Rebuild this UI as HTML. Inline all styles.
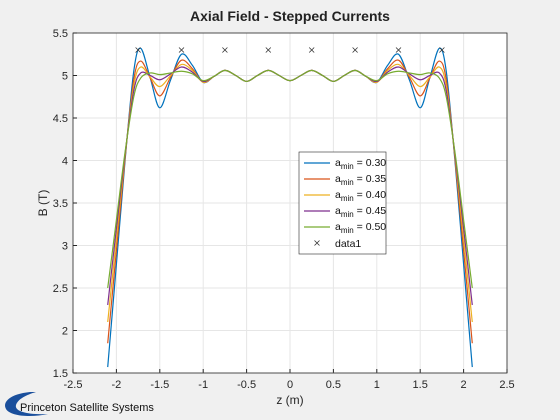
<!DOCTYPE html>
<html><head><meta charset="utf-8"><style>
html,body{margin:0;padding:0;background:#f0f0f0;width:560px;height:420px;overflow:hidden}
svg{display:block;font-family:"Liberation Sans",sans-serif}
</style></head><body>
<svg id="chart" width="560" height="420">
<rect x="0" y="0" width="560" height="420" fill="#f0f0f0"/>
<text x="290" y="21" text-anchor="middle" font-size="14" font-weight="bold" fill="#222">Axial Field - Stepped Currents</text>
<g id="plot"></g>
<g>
<path d="M30 392 C10 394 2 402 6 409 C10 416 30 418 48 414 C30 415 14 412 16 405 C18 399 26 395 36 392 Z" fill="#1a4f9c"/>
<text x="20" y="411" font-size="11" fill="#111">Princeton Satellite Systems</text>
</g>
</svg>
<script>
const zVals=[-2.1,-2.0,-1.9,-1.8,-1.72,-1.61,-1.5,-1.375,-1.25,-1.125,-1.0,-0.875,-0.75,-0.625,-0.5,-0.375,-0.25,-0.125,0,0.125,0.25,0.375,0.5,0.625,0.75,0.875,1.0,1.125,1.25,1.375,1.5,1.61,1.72,1.8,1.9,2.0,2.1];
const s030=[1.57,2.78,4.0,5.05,5.32,4.97,4.62,4.95,5.25,5.12,4.92,4.99,5.06,5.0,4.93,5.0,5.06,5.0,4.94,5.0,5.06,5.0,4.93,5.0,5.06,4.99,4.92,5.12,5.25,4.95,4.62,4.97,5.32,5.05,4.0,2.78,1.57];
const s035=[1.85,2.94,4.03,4.95,5.17,4.97,4.76,4.98,5.18,5.08,4.92,4.99,5.06,5.0,4.93,5.0,5.06,5.0,4.94,5.0,5.06,5.0,4.93,5.0,5.06,4.99,4.92,5.08,5.18,4.98,4.76,4.97,5.17,4.95,4.03,2.94,1.85];
const s040=[2.1,3.08,4.06,4.88,5.1,4.98,4.87,5.0,5.13,5.06,4.92,4.99,5.06,5.0,4.93,5.0,5.06,5.0,4.94,5.0,5.06,5.0,4.93,5.0,5.06,4.99,4.92,5.06,5.13,5.0,4.87,4.98,5.1,4.88,4.06,3.08,2.1];
const s045=[2.3,3.2,4.08,4.82,5.03,5.0,4.95,5.02,5.1,5.04,4.93,4.99,5.06,5.0,4.93,5.0,5.06,5.0,4.94,5.0,5.06,5.0,4.93,5.0,5.06,4.99,4.93,5.04,5.1,5.02,4.95,5.0,5.03,4.82,4.08,3.2,2.3];
const s050=[2.5,3.3,4.1,4.75,4.97,5.03,5.01,5.03,5.05,5.02,4.94,4.99,5.06,5.0,4.93,5.0,5.06,5.0,4.94,5.0,5.06,5.0,4.93,5.0,5.06,4.99,4.94,5.02,5.05,5.03,5.01,5.03,4.97,4.75,4.1,3.3,2.5];
const seriesLabels=["0.30","0.35","0.40","0.45","0.50"];
const markerZ=[-1.75,-1.25,-0.75,-0.25,0.25,0.75,1.25,1.75];
const markerB=[5.3,5.3,5.3,5.3,5.3,5.3,5.3,5.3];
const xTicks=[-2.5,-2,-1.5,-1,-0.5,0,0.5,1,1.5,2,2.5];
const yTicks=[1.5,2,2.5,3,3.5,4,4.5,5,5.5];

const NS="http://www.w3.org/2000/svg";
const L=73,R=507,T=33,B=373;
const sx=v=>L+(v+2.5)/5*(R-L);
const sy=v=>B-(v-1.5)/4*(B-T);
const g=document.getElementById('plot');
function mk(t,a,p){const e=document.createElementNS(NS,t);for(const k in a)e.setAttribute(k,a[k]);(p||g).appendChild(e);return e;}
const bg=mk('rect',{x:L,y:T,width:R-L,height:B-T,fill:'#fff'});


xTicks.forEach(t=>{
 const gl=mk('line',{x1:sx(t),x2:sx(t),y1:T,y2:B,stroke:'#e6e6e6','stroke-width':1});
 
 
 const tk=mk('line',{x1:sx(t),x2:sx(t),y1:B,y2:B-4,stroke:'#262626'});
 
 
 const lb=mk('text',{x:sx(t),y:B+15,'text-anchor':'middle','font-size':11,fill:'#262626'});
 lb.textContent=String(t);
 
 
});
yTicks.forEach(t=>{
 const gl=mk('line',{x1:L,x2:R,y1:sy(t),y2:sy(t),stroke:'#e6e6e6','stroke-width':1});
 
 
 const tk=mk('line',{x1:L,x2:L+4,y1:sy(t),y2:sy(t),stroke:'#262626'});
 
 
 const lb=mk('text',{x:L-5,y:sy(t)+4,'text-anchor':'end','font-size':11,fill:'#262626'});
 lb.textContent=String(t);
 
 
});
const box=mk('rect',{x:L,y:T,width:R-L,height:B-T,fill:'none',stroke:'#262626','stroke-width':0.8});


const colors=['#0072BD','#D95319','#EDB120','#7E2F8E','#77AC30'];
const all=[s030,s035,s040,s045,s050];
function pathFor(ys){
 const p=zVals.map((z,i)=>[sx(z),sy(ys[i])]);
 let d='M'+p[0][0]+' '+p[0][1];
 for(let i=0;i<p.length-1;i++){
  const p0=p[Math.max(0,i-1)],p1=p[i],p2=p[i+1],p3=p[Math.min(p.length-1,i+2)];
  const c1=[p1[0]+(p2[0]-p0[0])/6,p1[1]+(p2[1]-p0[1])/6];
  const c2=[p2[0]-(p3[0]-p1[0])/6,p2[1]-(p3[1]-p1[1])/6];
  d+=` C${c1[0]} ${c1[1]} ${c2[0]} ${c2[1]} ${p2[0]} ${p2[1]}`;
 }
 return d;
}
all.forEach((ys,k)=>{
 const pth=mk('path',{d:pathFor(ys),fill:'none',stroke:colors[k],'stroke-width':1.2});
 
 
});
markerZ.forEach((z,i)=>{
 const x=sx(z),y=sy(markerB[i]);
 const m=mk('path',{d:`M${x-2.5} ${y-2.5}L${x+2.5} ${y+2.5}M${x-2.5} ${y+2.5}L${x+2.5} ${y-2.5}`,stroke:'#333','stroke-width':0.8});
 
 
});
const xl=mk('text',{x:290,y:404,'text-anchor':'middle','font-size':12,fill:'#262626'});
xl.textContent='z (m)';


const yl=mk('text',{x:0,y:0,'text-anchor':'middle','font-size':12,fill:'#262626',transform:'translate(47 203) rotate(-90)'});
yl.textContent='B (T)';


const lg=mk('g',{});


mk('rect',{x:299,y:152,width:87,height:102,fill:'#fff',stroke:'#262626','stroke-width':0.6},lg);
seriesLabels.forEach((s,k)=>{
 const y=163+k*16;
 const ln=mk('line',{x1:304,x2:330,y1:y,y2:y,stroke:colors[k],'stroke-width':1.2},lg);
 
 
 const t=mk('text',{x:335,y:y+3,'font-size':10.5,fill:'#111'},lg);
 t.innerHTML='a<tspan font-size="8" dy="3">min</tspan><tspan dy="-3"> = '+s+'</tspan>';
 
 
});
const my=163+5*16;
mk('path',{d:`M${317-2.5} ${my-2.5}L${317+2.5} ${my+2.5}M${317-2.5} ${my+2.5}L${317+2.5} ${my-2.5}`,stroke:'#333','stroke-width':0.8},lg);
const dt=mk('text',{x:335,y:my+4,'font-size':10.5,fill:'#111'},lg);
dt.textContent='data1';


</script>
</body></html>
